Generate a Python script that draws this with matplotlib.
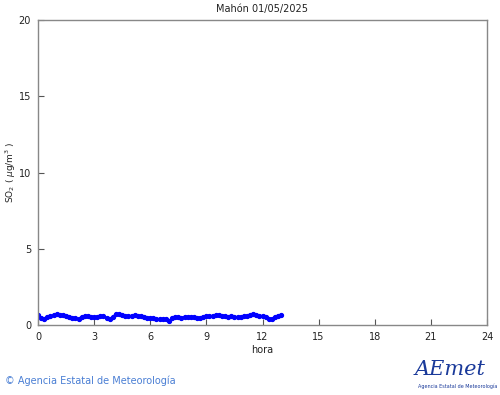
import numpy as np
import matplotlib
matplotlib.use("Agg")
import matplotlib.pyplot as plt

title = "Mahón 01/05/2025"
xticks = [0, 3, 6, 9, 12, 15, 18, 21, 24]
yticks = [0, 5, 10, 15, 20]

# 10-minute SO2 values, 00:00 to 13:00
so2 = [0.65, 0.45, 0.42, 0.50, 0.58, 0.65, 0.70, 0.68, 0.65, 0.62,
       0.55, 0.48, 0.45, 0.42, 0.55, 0.62, 0.60, 0.55, 0.50, 0.55,
       0.60, 0.62, 0.45, 0.38, 0.55, 0.75, 0.70, 0.65, 0.62, 0.60,
       0.62, 0.65, 0.62, 0.60, 0.55, 0.48, 0.45, 0.48, 0.42, 0.40,
       0.38, 0.42, 0.30, 0.45, 0.50, 0.50, 0.48, 0.55, 0.52, 0.50,
       0.52, 0.48, 0.45, 0.55, 0.58, 0.60, 0.62, 0.65, 0.65, 0.62,
       0.58, 0.55, 0.60, 0.55, 0.50, 0.52, 0.58, 0.62, 0.65, 0.70,
       0.65, 0.60, 0.62, 0.55, 0.40, 0.42, 0.55, 0.60, 0.65]
hours = np.arange(len(so2)) / 6.0

fig = plt.figure(figsize=(5.0, 3.95), dpi=100)
ax = fig.add_axes([0.076, 0.177, 0.898, 0.772])
ax.plot(hours, so2, color="#0000ff", marker="o", markersize=2.8, linewidth=1.2)
ax.set_xlim(0, 24)
ax.set_ylim(0, 20)
ax.set_xticks(xticks)
ax.set_yticks(yticks)
ax.tick_params(direction="in", length=4, width=0.8, color="#555555",
               labelsize=7, labelcolor="#222222", pad=5)
for s in ax.spines.values():
    s.set_color("#888888")
    s.set_linewidth(1.0)
ax.set_title(title, fontsize=7, color="#222222", pad=6)
ax.set_xlabel("hora", fontsize=7, color="#222222", labelpad=2)
ax.set_ylabel(r"SO$_2$ ( $\mu$g/m$^3$ )", fontsize=6.5, color="#222222")
ax.yaxis.set_label_coords(-0.045, 0.5)

fig.text(0.01, 0.028, "\u00a9 Agencia Estatal de Meteorología", fontsize=7,
         color="#4a7fd4")
fig.text(0.83, 0.05, "AEmet", fontsize=15, color="#1a3a9a", style="italic",
         family="DejaVu Serif")
fig.text(0.835, 0.017, "Agencia Estatal de Meteorología", fontsize=3.5,
         color="#1a3a9a")

fig.savefig("out.png", dpi=100)
